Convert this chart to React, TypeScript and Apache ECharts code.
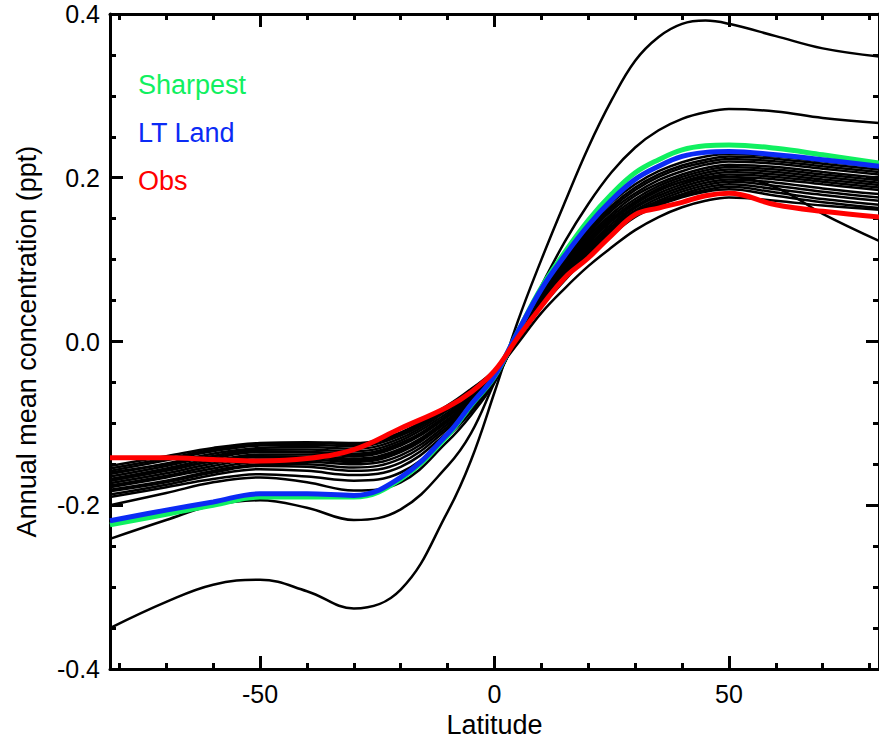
import React, { useEffect, useRef } from "react";
import * as echarts from "echarts";

const LATS = [-82, -70, -60, -50, -40, -30, -20, -10, -5, 0, 5, 10, 15, 20, 25, 30, 35, 40, 45, 50, 60, 70, 82];

// Black model runs (annual mean concentration, ppt)
const RUN_E1 = [-0.350, -0.318, -0.297, -0.291, -0.305, -0.326, -0.303, -0.208, -0.145, -0.062, 0.025, 0.100, 0.170, 0.237, 0.295, 0.343, 0.372, 0.388, 0.392, 0.388, 0.373, 0.358, 0.348];
const RUN_E2 = [-0.241, -0.218, -0.200, -0.194, -0.203, -0.218, -0.205, -0.152, -0.112, -0.050, 0.010, 0.068, 0.122, 0.168, 0.207, 0.237, 0.258, 0.272, 0.280, 0.284, 0.281, 0.273, 0.267];
const RUN_C1 = [-0.200, -0.185, -0.172, -0.166, -0.172, -0.182, -0.172, -0.122, -0.090, -0.050, 0.008, 0.060, 0.102, 0.140, 0.170, 0.192, 0.208, 0.219, 0.226, 0.229, 0.226, 0.220, 0.213];
const RUN_C2 = [-0.190, -0.178, -0.168, -0.162, -0.165, -0.170, -0.160, -0.116, -0.086, -0.048, 0.008, 0.058, 0.099, 0.137, 0.166, 0.188, 0.204, 0.215, 0.222, 0.226, 0.223, 0.217, 0.210];
const RUN_C3 = [-0.187, -0.175, -0.163, -0.156, -0.158, -0.163, -0.153, -0.111, -0.082, -0.047, 0.007, 0.056, 0.097, 0.134, 0.163, 0.185, 0.201, 0.212, 0.219, 0.223, 0.220, 0.214, 0.207];
const RUN_C4 = [-0.183, -0.172, -0.160, -0.152, -0.153, -0.158, -0.148, -0.107, -0.079, -0.046, 0.007, 0.055, 0.095, 0.131, 0.160, 0.181, 0.197, 0.208, 0.216, 0.220, 0.217, 0.211, 0.204];
const RUN_C5 = [-0.181, -0.170, -0.158, -0.150, -0.150, -0.154, -0.143, -0.104, -0.076, -0.045, 0.006, 0.053, 0.092, 0.128, 0.156, 0.178, 0.193, 0.204, 0.212, 0.216, 0.213, 0.207, 0.200];
const RUN_C6 = [-0.178, -0.166, -0.155, -0.147, -0.147, -0.150, -0.139, -0.101, -0.074, -0.044, 0.006, 0.052, 0.090, 0.125, 0.153, 0.174, 0.190, 0.201, 0.209, 0.213, 0.210, 0.204, 0.197];
const RUN_C7 = [-0.176, -0.164, -0.152, -0.144, -0.144, -0.147, -0.135, -0.098, -0.072, -0.043, 0.005, 0.050, 0.088, 0.122, 0.150, 0.171, 0.187, 0.198, 0.206, 0.210, 0.207, 0.201, 0.194];
const RUN_C8 = [-0.173, -0.161, -0.149, -0.141, -0.141, -0.143, -0.131, -0.095, -0.070, -0.042, 0.005, 0.049, 0.086, 0.120, 0.147, 0.168, 0.184, 0.195, 0.203, 0.207, 0.204, 0.198, 0.191];
const RUN_C9 = [-0.170, -0.158, -0.146, -0.138, -0.138, -0.140, -0.127, -0.092, -0.068, -0.041, 0.004, 0.048, 0.084, 0.117, 0.144, 0.165, 0.181, 0.192, 0.200, 0.204, 0.201, 0.195, 0.188];
const RUN_C10 = [-0.168, -0.155, -0.143, -0.135, -0.135, -0.137, -0.124, -0.090, -0.066, -0.040, 0.004, 0.047, 0.082, 0.115, 0.141, 0.163, 0.178, 0.189, 0.197, 0.201, 0.198, 0.192, 0.185];
const RUN_C11 = [-0.165, -0.152, -0.140, -0.132, -0.132, -0.134, -0.121, -0.087, -0.064, -0.039, 0.003, 0.046, 0.080, 0.113, 0.139, 0.160, 0.175, 0.186, 0.194, 0.198, 0.194, 0.187, 0.180];
const RUN_C12 = [-0.162, -0.149, -0.137, -0.130, -0.129, -0.131, -0.118, -0.084, -0.062, -0.038, 0.003, 0.045, 0.079, 0.111, 0.136, 0.158, 0.172, 0.183, 0.191, 0.195, 0.190, 0.183, 0.176];
const RUN_C13 = [-0.158, -0.145, -0.134, -0.127, -0.126, -0.128, -0.115, -0.082, -0.060, -0.037, 0.003, 0.044, 0.077, 0.109, 0.134, 0.156, 0.170, 0.180, 0.188, 0.192, 0.186, 0.179, 0.172];
const RUN_C14 = [-0.155, -0.143, -0.132, -0.125, -0.124, -0.125, -0.113, -0.080, -0.059, -0.036, 0.002, 0.043, 0.076, 0.107, 0.132, 0.154, 0.168, 0.178, 0.185, 0.189, 0.182, 0.174, 0.167];
const RUN_C15 = [-0.152, -0.140, -0.130, -0.124, -0.123, -0.124, -0.111, -0.078, -0.058, -0.035, 0.002, 0.042, 0.075, 0.105, 0.130, 0.152, 0.166, 0.176, 0.183, 0.186, 0.178, 0.170, 0.163];
const RUN_C16 = [-0.160, -0.150, -0.140, -0.134, -0.135, -0.138, -0.125, -0.090, -0.066, -0.038, -0.002, 0.035, 0.065, 0.092, 0.115, 0.136, 0.152, 0.164, 0.172, 0.176, 0.172, 0.166, 0.161];
const RUN_C17 = [-0.170, -0.157, -0.146, -0.140, -0.141, -0.145, -0.133, -0.097, -0.071, -0.042, 0.005, 0.049, 0.087, 0.121, 0.149, 0.170, 0.185, 0.195, 0.200, 0.201, 0.188, 0.156, 0.123];

const BLACK_RUNS = [
  RUN_E1, RUN_E2, RUN_C1, RUN_C2, RUN_C3, RUN_C4, RUN_C5, RUN_C6, RUN_C7, RUN_C8,
  RUN_C9, RUN_C10, RUN_C11, RUN_C12, RUN_C13, RUN_C14, RUN_C15, RUN_C16, RUN_C17,
];

// Highlighted curves
const SHARPEST = [-0.224, -0.211, -0.200, -0.190, -0.190, -0.190, -0.168, -0.115, -0.078, -0.043, 0.012, 0.066, 0.109, 0.148, 0.180, 0.206, 0.222, 0.234, 0.239, 0.240, 0.236, 0.228, 0.218];
const LT_LAND = [-0.219, -0.206, -0.196, -0.186, -0.186, -0.188, -0.166, -0.113, -0.077, -0.042, 0.012, 0.064, 0.105, 0.142, 0.173, 0.198, 0.214, 0.226, 0.231, 0.232, 0.228, 0.222, 0.214];
const OBS = [-0.142, -0.142, -0.144, -0.146, -0.143, -0.132, -0.106, -0.080, -0.062, -0.036, 0.005, 0.043, 0.078, 0.102, 0.130, 0.155, 0.163, 0.170, 0.178, 0.181, 0.167, 0.159, 0.152];

const LEGEND_ITEMS = [
  { label: "Sharpest", color: "#10f060" },
  { label: "LT Land", color: "#0b2bf5" },
  { label: "Obs", color: "#ff0000" },
];

const X_MIN = -82;
const X_MAX = 82;
const Y_MIN = -0.4;
const Y_MAX = 0.4;
const Y_INTERVAL = 0.2;

const FONT = "'Liberation Sans', Arial, Helvetica, sans-serif";

export default function App() {
  const ref = useRef<HTMLDivElement>(null);

  useEffect(() => {
    if (!ref.current) return;
    const chart = echarts.init(ref.current, undefined, { renderer: "svg" });

    const toData = (vals: number[]) => LATS.map((x, i) => [x, vals[i]]);

    const lineCommon = {
      type: "line" as const,
      smooth: 0.4,
      symbol: "none",
      silent: true,
      xAxisIndex: 0,
      yAxisIndex: 0,
    };

    const series: any[] = BLACK_RUNS.map((vals, i) => ({
      ...lineCommon,
      name: "run" + i,
      data: toData(vals),
      lineStyle: { color: "#000000", width: 2.5 },
      z: 2,
    }));
    series.push({
      ...lineCommon,
      name: LEGEND_ITEMS[0].label,
      data: toData(SHARPEST),
      lineStyle: { color: LEGEND_ITEMS[0].color, width: 5 },
      z: 3,
    });
    series.push({
      ...lineCommon,
      name: LEGEND_ITEMS[1].label,
      data: toData(LT_LAND),
      lineStyle: { color: LEGEND_ITEMS[1].color, width: 5 },
      z: 4,
    });
    series.push({
      ...lineCommon,
      name: LEGEND_ITEMS[2].label,
      data: toData(OBS),
      lineStyle: { color: LEGEND_ITEMS[2].color, width: 5 },
      z: 5,
    });

    const axisLine = { show: true, onZero: false, lineStyle: { color: "#000", width: 3 } };
    const axisTick = { show: true, inside: true, length: 13, lineStyle: { color: "#000", width: 3 } };
    const labelStyle = { color: "#000", fontSize: 25, fontFamily: FONT };

    const xBase = {
      type: "value" as const,
      min: X_MIN,
      max: X_MAX,
      splitNumber: 3,
      axisLine,
      axisTick,
      minorTick: { show: true, splitNumber: 5, length: 6, lineStyle: { color: "#000", width: 3 } },
      splitLine: { show: false },
      minorSplitLine: { show: false },
    };
    const yBase = {
      type: "value" as const,
      min: Y_MIN,
      max: Y_MAX,
      interval: Y_INTERVAL,
      axisLine,
      axisTick,
      minorTick: { show: true, splitNumber: 4, length: 6, lineStyle: { color: "#000", width: 3 } },
      splitLine: { show: false },
      minorSplitLine: { show: false },
    };

    chart.setOption({
      animation: false,
      backgroundColor: "#ffffff",
      grid: { left: 110, right: 0, top: 14, bottom: 69, containLabel: false },
      xAxis: [
        {
          ...xBase,
          position: "bottom",
          axisLabel: { ...labelStyle, margin: 12, showMinLabel: false, showMaxLabel: false },
          name: "Latitude",
          nameLocation: "middle",
          nameGap: 42,
          nameTextStyle: { color: "#000", fontSize: 27, fontFamily: FONT },
        },
        {
          ...xBase,
          position: "top",
          axisLabel: { show: false },
        },
      ],
      yAxis: [
        {
          ...yBase,
          position: "left",
          axisLabel: {
            ...labelStyle,
            margin: 10,
            formatter: (v: number) => v.toFixed(1),
          },
          name: "Annual mean concentration (ppt)",
          nameLocation: "middle",
          nameGap: 70,
          nameTextStyle: { color: "#000", fontSize: 27, fontFamily: FONT },
        },
        {
          ...yBase,
          position: "right",
          axisLabel: { show: false },
        },
      ],
      graphic: LEGEND_ITEMS.map((item, i) => ({
        type: "text",
        left: 138,
        top: 71 + i * 48,
        silent: true,
        style: {
          text: item.label,
          fill: item.color,
          fontSize: 27,
          fontFamily: FONT,
        },
      })),
      series,
    });

    return () => {
      chart.dispose();
    };
  }, []);

  return (
    <div
      ref={ref}
      style={{ position: "fixed", left: 0, top: 0, width: 879, height: 743, background: "#fff" }}
    />
  );
}
